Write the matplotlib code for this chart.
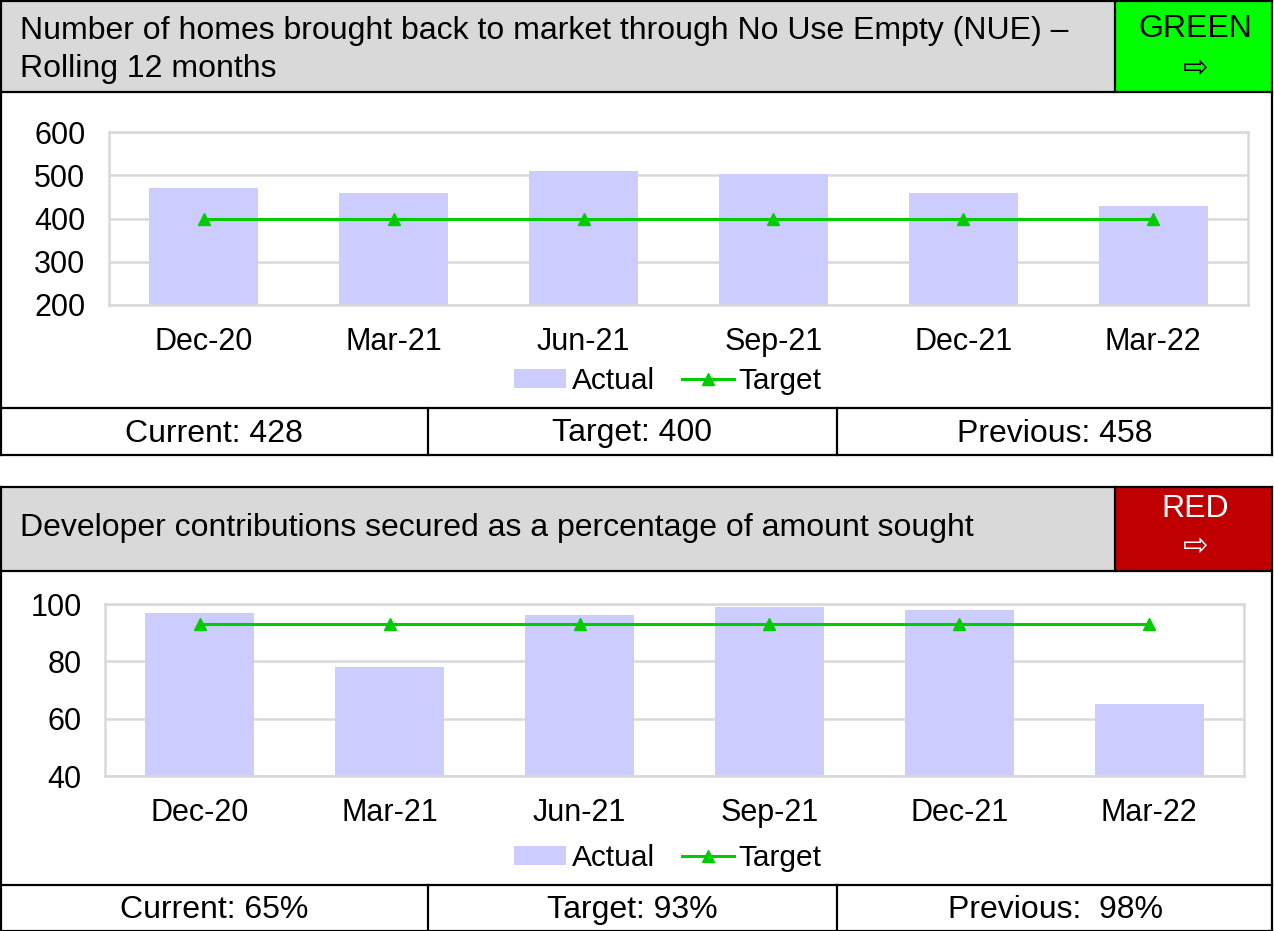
import matplotlib
matplotlib.use('Agg')
import matplotlib.pyplot as plt
from matplotlib.patches import Rectangle

plt.rcParams['font.family'] = ['Liberation Sans', 'DejaVu Sans']

periods = ['Dec-20', 'Mar-21', 'Jun-21', 'Sep-21', 'Dec-21', 'Mar-22']
homes_actual = [471, 460, 510, 502, 458, 428]
homes_target = [400, 400, 400, 400, 400, 400]
contrib_actual = [97, 78, 96, 99, 98, 65]
contrib_target = [93, 93, 93, 93, 93, 93]

W, H = 1274, 931
fig = plt.figure(figsize=(W / 100, H / 100), dpi=100)

# overlay axes in pixel coords for the table-like frame
bg = fig.add_axes([0, 0, 1, 1], zorder=0)
bg.set_xlim(0, W)
bg.set_ylim(H, 0)
bg.axis('off')


def panel(top, head_h, body_h, foot_h, title, status, status_col, status_txt_col, footer,
          title_y, status_y, arrow_y):
    bottom = top + head_h + body_h + foot_h
    bg.add_patch(Rectangle((1, top), 1271, head_h, facecolor='#d9d9d9', edgecolor='none'))
    bg.add_patch(Rectangle((1115, top), 157, head_h, facecolor=status_col, edgecolor='none'))
    # borders
    for y in [top, top + head_h, top + head_h + body_h, bottom]:
        bg.plot([1, 1272], [y, y], color='black', lw=1.6)
    bg.plot([1, 1], [top, bottom], color='black', lw=1.6)
    bg.plot([1272, 1272], [top, bottom], color='black', lw=1.6)
    bg.plot([1115, 1115], [top, top + head_h], color='black', lw=1.6)
    fy = top + head_h + body_h
    bg.plot([428, 428], [fy, bottom], color='black', lw=1.6)
    bg.plot([837, 837], [fy, bottom], color='black', lw=1.6)
    bg.text(20, top + title_y, title, fontsize=23,
            va='center', ha='left', linespacing=1.35)
    bg.text(1195, top + status_y, status, fontsize=23, ha='center', va='center',
            color=status_txt_col)
    bg.text(1196, top + arrow_y, '\u21e8', fontsize=22, ha='center', va='center',
            color=status_txt_col)
    for cx, txt in zip([214, 632, 1055], footer):
        bg.text(cx, fy + foot_h / 2 + 2, txt, fontsize=23, ha='center', va='center')


def chart(rect, actual, target, ylim, yticks, legend_y):
    l, t, r, b = rect
    ax = fig.add_axes([l / W, 1 - b / H, (r - l) / W, (b - t) / H], zorder=2)
    x = range(len(periods))
    bars = ax.bar(x, actual, width=0.575, color='#ccccff', label='Actual', zorder=2)
    line, = ax.plot(x, target, color='#00cc00', lw=2.2, marker='^', markersize=8,
                    label='Target', zorder=3)
    ax.set_xlim(-0.5, len(periods) - 0.5)
    ax.set_ylim(*ylim)
    ax.set_yticks(yticks)
    ax.set_xticks(list(x))
    ax.set_xticklabels(periods)
    ax.tick_params(length=0, labelsize=22, colors='black')
    ax.tick_params(axis='x', pad=16)
    ax.tick_params(axis='y', pad=17)
    ax.grid(axis='y', color='#d9d9d9', lw=1.8, zorder=1)
    ax.set_axisbelow(True)
    for s in ax.spines.values():
        s.set_color('#d9d9d9')
        s.set_linewidth(1.8)
    ax.legend([bars, line], ['Actual', 'Target'], loc='center',
              bbox_to_anchor=(668 / W, 1 - (legend_y + 1) / H),
              bbox_transform=fig.transFigure, ncol=2, frameon=False,
              fontsize=21.5, handlelength=1.75, handletextpad=0.17,
              columnspacing=0.9, handleheight=0.6)
    return ax


panel(1, 91, 316, 47,
      'Number of homes brought back to market through No Use Empty (NUE) \u2013\nRolling 12 months',
      'GREEN', '#00ff00', 'black',
      ['Current: %d' % homes_actual[-1], 'Target: %d' % homes_target[-1],
       'Previous: %d' % homes_actual[-2]], title_y=49, status_y=28, arrow_y=68)
panel(487, 84, 314, 46,
      'Developer contributions secured as a percentage of amount sought',
      'RED', '#c00000', 'white',
      ['Current: %d%%' % contrib_actual[-1], 'Target: %d%%' % contrib_target[-1],
       'Previous:  %d%%' % contrib_actual[-2]], title_y=41, status_y=22, arrow_y=60)

chart((109, 132, 1248, 305), homes_actual, homes_target, (200, 600),
      [200, 300, 400, 500, 600], 380)
chart((105, 604, 1244, 776), contrib_actual, contrib_target, (40, 100),
      [40, 60, 80, 100], 857)

fig.savefig('out.png', dpi=100)
